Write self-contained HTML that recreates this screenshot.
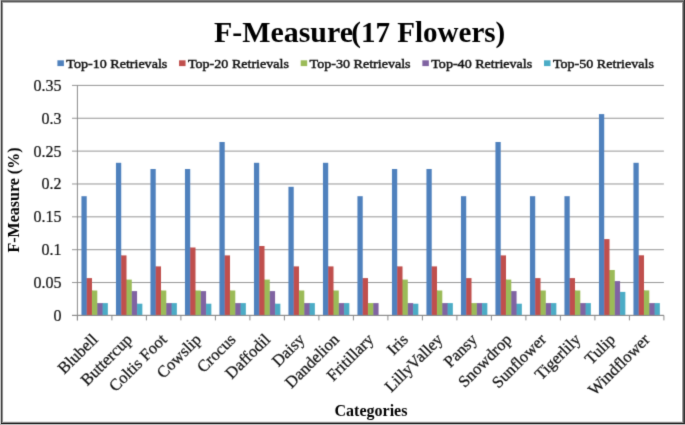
<!DOCTYPE html>
<html><head><meta charset="utf-8"><title>F-Measure(17 Flowers)</title><style>html,body{margin:0;padding:0;background:#fff;}body{width:685px;height:425px;overflow:hidden;position:relative;}svg{position:absolute;left:0;top:0;}text{font-family:"Liberation Serif",serif;}</style></head><body>
<svg id="chart" width="685" height="425" viewBox="0 0 685 425">
<defs><filter id="bl" x="0" y="0" width="685" height="425" filterUnits="userSpaceOnUse"><feConvolveMatrix order="3" kernelMatrix="0.0144 0.0912 0.0144 0.0912 0.5776 0.0912 0.0144 0.0912 0.0144" edgeMode="duplicate"/></filter></defs>
<rect x="0" y="0" width="685" height="425" fill="#fff"/>
<g filter="url(#bl)">
<line x1="72" y1="315.40" x2="663.90" y2="315.40" stroke="#959595" stroke-width="1"/>
<line x1="72" y1="282.54" x2="663.90" y2="282.54" stroke="#959595" stroke-width="1"/>
<line x1="72" y1="249.69" x2="663.90" y2="249.69" stroke="#959595" stroke-width="1"/>
<line x1="72" y1="216.83" x2="663.90" y2="216.83" stroke="#959595" stroke-width="1"/>
<line x1="72" y1="183.97" x2="663.90" y2="183.97" stroke="#959595" stroke-width="1"/>
<line x1="72" y1="151.11" x2="663.90" y2="151.11" stroke="#959595" stroke-width="1"/>
<line x1="72" y1="118.26" x2="663.90" y2="118.26" stroke="#959595" stroke-width="1"/>
<line x1="72" y1="85.40" x2="663.90" y2="85.40" stroke="#959595" stroke-width="1"/>
<line x1="77.40" y1="315.40" x2="77.40" y2="320.40" stroke="#8a8a8a" stroke-width="1"/>
<line x1="111.90" y1="315.40" x2="111.90" y2="320.40" stroke="#8a8a8a" stroke-width="1"/>
<line x1="146.40" y1="315.40" x2="146.40" y2="320.40" stroke="#8a8a8a" stroke-width="1"/>
<line x1="180.90" y1="315.40" x2="180.90" y2="320.40" stroke="#8a8a8a" stroke-width="1"/>
<line x1="215.40" y1="315.40" x2="215.40" y2="320.40" stroke="#8a8a8a" stroke-width="1"/>
<line x1="249.90" y1="315.40" x2="249.90" y2="320.40" stroke="#8a8a8a" stroke-width="1"/>
<line x1="284.40" y1="315.40" x2="284.40" y2="320.40" stroke="#8a8a8a" stroke-width="1"/>
<line x1="318.90" y1="315.40" x2="318.90" y2="320.40" stroke="#8a8a8a" stroke-width="1"/>
<line x1="353.40" y1="315.40" x2="353.40" y2="320.40" stroke="#8a8a8a" stroke-width="1"/>
<line x1="387.90" y1="315.40" x2="387.90" y2="320.40" stroke="#8a8a8a" stroke-width="1"/>
<line x1="422.40" y1="315.40" x2="422.40" y2="320.40" stroke="#8a8a8a" stroke-width="1"/>
<line x1="456.90" y1="315.40" x2="456.90" y2="320.40" stroke="#8a8a8a" stroke-width="1"/>
<line x1="491.40" y1="315.40" x2="491.40" y2="320.40" stroke="#8a8a8a" stroke-width="1"/>
<line x1="525.90" y1="315.40" x2="525.90" y2="320.40" stroke="#8a8a8a" stroke-width="1"/>
<line x1="560.40" y1="315.40" x2="560.40" y2="320.40" stroke="#8a8a8a" stroke-width="1"/>
<line x1="594.90" y1="315.40" x2="594.90" y2="320.40" stroke="#8a8a8a" stroke-width="1"/>
<line x1="629.40" y1="315.40" x2="629.40" y2="320.40" stroke="#8a8a8a" stroke-width="1"/>
<line x1="663.90" y1="315.40" x2="663.90" y2="320.40" stroke="#8a8a8a" stroke-width="1"/>
<rect x="86.23" y="278.10" width="1" height="37.30" fill="#4F81BD"/>
<rect x="91.51" y="290.50" width="1" height="24.90" fill="#C0504D"/>
<rect x="96.79" y="303.10" width="1" height="12.30" fill="#9BBB59"/>
<rect x="102.07" y="303.10" width="1" height="12.30" fill="#8064A2"/>
<rect x="81.44" y="196.20" width="5.28" height="119.20" fill="#4F81BD"/>
<rect x="86.73" y="278.10" width="5.28" height="37.30" fill="#C0504D"/>
<rect x="92.01" y="290.50" width="5.28" height="24.90" fill="#9BBB59"/>
<rect x="97.29" y="303.10" width="5.28" height="12.30" fill="#8064A2"/>
<rect x="102.57" y="303.10" width="5.28" height="12.30" fill="#4BACC6"/>
<rect x="120.73" y="255.40" width="1" height="60.00" fill="#4F81BD"/>
<rect x="126.01" y="279.60" width="1" height="35.80" fill="#C0504D"/>
<rect x="131.29" y="291.10" width="1" height="24.30" fill="#9BBB59"/>
<rect x="136.57" y="303.70" width="1" height="11.70" fill="#8064A2"/>
<rect x="115.94" y="162.80" width="5.28" height="152.60" fill="#4F81BD"/>
<rect x="121.23" y="255.40" width="5.28" height="60.00" fill="#C0504D"/>
<rect x="126.51" y="279.60" width="5.28" height="35.80" fill="#9BBB59"/>
<rect x="131.79" y="291.10" width="5.28" height="24.30" fill="#8064A2"/>
<rect x="137.07" y="303.70" width="5.28" height="11.70" fill="#4BACC6"/>
<rect x="155.23" y="266.40" width="1" height="49.00" fill="#4F81BD"/>
<rect x="160.51" y="290.50" width="1" height="24.90" fill="#C0504D"/>
<rect x="165.79" y="303.10" width="1" height="12.30" fill="#9BBB59"/>
<rect x="171.07" y="303.10" width="1" height="12.30" fill="#8064A2"/>
<rect x="150.44" y="169.00" width="5.28" height="146.40" fill="#4F81BD"/>
<rect x="155.73" y="266.40" width="5.28" height="49.00" fill="#C0504D"/>
<rect x="161.01" y="290.50" width="5.28" height="24.90" fill="#9BBB59"/>
<rect x="166.29" y="303.10" width="5.28" height="12.30" fill="#8064A2"/>
<rect x="171.57" y="303.10" width="5.28" height="12.30" fill="#4BACC6"/>
<rect x="189.73" y="247.50" width="1" height="67.90" fill="#4F81BD"/>
<rect x="195.01" y="290.50" width="1" height="24.90" fill="#C0504D"/>
<rect x="200.29" y="291.10" width="1" height="24.30" fill="#9BBB59"/>
<rect x="205.57" y="303.70" width="1" height="11.70" fill="#8064A2"/>
<rect x="184.94" y="169.00" width="5.28" height="146.40" fill="#4F81BD"/>
<rect x="190.23" y="247.50" width="5.28" height="67.90" fill="#C0504D"/>
<rect x="195.51" y="290.50" width="5.28" height="24.90" fill="#9BBB59"/>
<rect x="200.79" y="291.10" width="5.28" height="24.30" fill="#8064A2"/>
<rect x="206.07" y="303.70" width="5.28" height="11.70" fill="#4BACC6"/>
<rect x="224.23" y="255.40" width="1" height="60.00" fill="#4F81BD"/>
<rect x="229.51" y="290.50" width="1" height="24.90" fill="#C0504D"/>
<rect x="234.79" y="303.10" width="1" height="12.30" fill="#9BBB59"/>
<rect x="240.07" y="303.10" width="1" height="12.30" fill="#8064A2"/>
<rect x="219.44" y="142.00" width="5.28" height="173.40" fill="#4F81BD"/>
<rect x="224.73" y="255.40" width="5.28" height="60.00" fill="#C0504D"/>
<rect x="230.01" y="290.50" width="5.28" height="24.90" fill="#9BBB59"/>
<rect x="235.29" y="303.10" width="5.28" height="12.30" fill="#8064A2"/>
<rect x="240.57" y="303.10" width="5.28" height="12.30" fill="#4BACC6"/>
<rect x="258.73" y="246.00" width="1" height="69.40" fill="#4F81BD"/>
<rect x="264.01" y="279.60" width="1" height="35.80" fill="#C0504D"/>
<rect x="269.29" y="291.10" width="1" height="24.30" fill="#9BBB59"/>
<rect x="274.57" y="303.70" width="1" height="11.70" fill="#8064A2"/>
<rect x="253.94" y="162.80" width="5.28" height="152.60" fill="#4F81BD"/>
<rect x="259.23" y="246.00" width="5.28" height="69.40" fill="#C0504D"/>
<rect x="264.51" y="279.60" width="5.28" height="35.80" fill="#9BBB59"/>
<rect x="269.79" y="291.10" width="5.28" height="24.30" fill="#8064A2"/>
<rect x="275.07" y="303.70" width="5.28" height="11.70" fill="#4BACC6"/>
<rect x="293.23" y="266.40" width="1" height="49.00" fill="#4F81BD"/>
<rect x="298.51" y="290.50" width="1" height="24.90" fill="#C0504D"/>
<rect x="303.79" y="303.10" width="1" height="12.30" fill="#9BBB59"/>
<rect x="309.07" y="303.10" width="1" height="12.30" fill="#8064A2"/>
<rect x="288.44" y="186.80" width="5.28" height="128.60" fill="#4F81BD"/>
<rect x="293.73" y="266.40" width="5.28" height="49.00" fill="#C0504D"/>
<rect x="299.01" y="290.50" width="5.28" height="24.90" fill="#9BBB59"/>
<rect x="304.29" y="303.10" width="5.28" height="12.30" fill="#8064A2"/>
<rect x="309.57" y="303.10" width="5.28" height="12.30" fill="#4BACC6"/>
<rect x="327.73" y="266.40" width="1" height="49.00" fill="#4F81BD"/>
<rect x="333.01" y="290.50" width="1" height="24.90" fill="#C0504D"/>
<rect x="338.29" y="303.10" width="1" height="12.30" fill="#9BBB59"/>
<rect x="343.57" y="303.10" width="1" height="12.30" fill="#8064A2"/>
<rect x="322.94" y="162.80" width="5.28" height="152.60" fill="#4F81BD"/>
<rect x="328.23" y="266.40" width="5.28" height="49.00" fill="#C0504D"/>
<rect x="333.51" y="290.50" width="5.28" height="24.90" fill="#9BBB59"/>
<rect x="338.79" y="303.10" width="5.28" height="12.30" fill="#8064A2"/>
<rect x="344.07" y="303.10" width="5.28" height="12.30" fill="#4BACC6"/>
<rect x="362.23" y="278.10" width="1" height="37.30" fill="#4F81BD"/>
<rect x="367.51" y="303.10" width="1" height="12.30" fill="#C0504D"/>
<rect x="372.79" y="303.10" width="1" height="12.30" fill="#9BBB59"/>
<rect x="357.44" y="196.20" width="5.28" height="119.20" fill="#4F81BD"/>
<rect x="362.73" y="278.10" width="5.28" height="37.30" fill="#C0504D"/>
<rect x="368.01" y="303.10" width="5.28" height="12.30" fill="#9BBB59"/>
<rect x="373.29" y="303.10" width="5.28" height="12.30" fill="#8064A2"/>
<rect x="396.73" y="266.40" width="1" height="49.00" fill="#4F81BD"/>
<rect x="402.01" y="279.60" width="1" height="35.80" fill="#C0504D"/>
<rect x="407.29" y="303.10" width="1" height="12.30" fill="#9BBB59"/>
<rect x="412.57" y="303.70" width="1" height="11.70" fill="#8064A2"/>
<rect x="391.94" y="169.00" width="5.28" height="146.40" fill="#4F81BD"/>
<rect x="397.23" y="266.40" width="5.28" height="49.00" fill="#C0504D"/>
<rect x="402.51" y="279.60" width="5.28" height="35.80" fill="#9BBB59"/>
<rect x="407.79" y="303.10" width="5.28" height="12.30" fill="#8064A2"/>
<rect x="413.07" y="303.70" width="5.28" height="11.70" fill="#4BACC6"/>
<rect x="431.23" y="266.40" width="1" height="49.00" fill="#4F81BD"/>
<rect x="436.51" y="290.50" width="1" height="24.90" fill="#C0504D"/>
<rect x="441.79" y="303.10" width="1" height="12.30" fill="#9BBB59"/>
<rect x="447.07" y="303.10" width="1" height="12.30" fill="#8064A2"/>
<rect x="426.44" y="169.00" width="5.28" height="146.40" fill="#4F81BD"/>
<rect x="431.73" y="266.40" width="5.28" height="49.00" fill="#C0504D"/>
<rect x="437.01" y="290.50" width="5.28" height="24.90" fill="#9BBB59"/>
<rect x="442.29" y="303.10" width="5.28" height="12.30" fill="#8064A2"/>
<rect x="447.57" y="303.10" width="5.28" height="12.30" fill="#4BACC6"/>
<rect x="465.73" y="278.10" width="1" height="37.30" fill="#4F81BD"/>
<rect x="471.01" y="303.10" width="1" height="12.30" fill="#C0504D"/>
<rect x="476.29" y="303.10" width="1" height="12.30" fill="#9BBB59"/>
<rect x="481.57" y="303.10" width="1" height="12.30" fill="#8064A2"/>
<rect x="460.94" y="196.20" width="5.28" height="119.20" fill="#4F81BD"/>
<rect x="466.23" y="278.10" width="5.28" height="37.30" fill="#C0504D"/>
<rect x="471.51" y="303.10" width="5.28" height="12.30" fill="#9BBB59"/>
<rect x="476.79" y="303.10" width="5.28" height="12.30" fill="#8064A2"/>
<rect x="482.07" y="303.10" width="5.28" height="12.30" fill="#4BACC6"/>
<rect x="500.23" y="255.40" width="1" height="60.00" fill="#4F81BD"/>
<rect x="505.51" y="279.60" width="1" height="35.80" fill="#C0504D"/>
<rect x="510.79" y="291.10" width="1" height="24.30" fill="#9BBB59"/>
<rect x="516.07" y="303.70" width="1" height="11.70" fill="#8064A2"/>
<rect x="495.44" y="142.00" width="5.28" height="173.40" fill="#4F81BD"/>
<rect x="500.73" y="255.40" width="5.28" height="60.00" fill="#C0504D"/>
<rect x="506.01" y="279.60" width="5.28" height="35.80" fill="#9BBB59"/>
<rect x="511.29" y="291.10" width="5.28" height="24.30" fill="#8064A2"/>
<rect x="516.57" y="303.70" width="5.28" height="11.70" fill="#4BACC6"/>
<rect x="534.73" y="278.10" width="1" height="37.30" fill="#4F81BD"/>
<rect x="540.01" y="290.50" width="1" height="24.90" fill="#C0504D"/>
<rect x="545.29" y="303.10" width="1" height="12.30" fill="#9BBB59"/>
<rect x="550.57" y="303.10" width="1" height="12.30" fill="#8064A2"/>
<rect x="529.94" y="196.20" width="5.28" height="119.20" fill="#4F81BD"/>
<rect x="535.23" y="278.10" width="5.28" height="37.30" fill="#C0504D"/>
<rect x="540.51" y="290.50" width="5.28" height="24.90" fill="#9BBB59"/>
<rect x="545.79" y="303.10" width="5.28" height="12.30" fill="#8064A2"/>
<rect x="551.07" y="303.10" width="5.28" height="12.30" fill="#4BACC6"/>
<rect x="569.23" y="278.10" width="1" height="37.30" fill="#4F81BD"/>
<rect x="574.51" y="290.50" width="1" height="24.90" fill="#C0504D"/>
<rect x="579.79" y="303.10" width="1" height="12.30" fill="#9BBB59"/>
<rect x="585.07" y="303.10" width="1" height="12.30" fill="#8064A2"/>
<rect x="564.44" y="196.20" width="5.28" height="119.20" fill="#4F81BD"/>
<rect x="569.73" y="278.10" width="5.28" height="37.30" fill="#C0504D"/>
<rect x="575.01" y="290.50" width="5.28" height="24.90" fill="#9BBB59"/>
<rect x="580.29" y="303.10" width="5.28" height="12.30" fill="#8064A2"/>
<rect x="585.57" y="303.10" width="5.28" height="12.30" fill="#4BACC6"/>
<rect x="603.73" y="239.10" width="1" height="76.30" fill="#4F81BD"/>
<rect x="609.01" y="270.00" width="1" height="45.40" fill="#C0504D"/>
<rect x="614.29" y="281.10" width="1" height="34.30" fill="#9BBB59"/>
<rect x="619.57" y="291.90" width="1" height="23.50" fill="#8064A2"/>
<rect x="598.94" y="114.10" width="5.28" height="201.30" fill="#4F81BD"/>
<rect x="604.23" y="239.10" width="5.28" height="76.30" fill="#C0504D"/>
<rect x="609.51" y="270.00" width="5.28" height="45.40" fill="#9BBB59"/>
<rect x="614.79" y="281.10" width="5.28" height="34.30" fill="#8064A2"/>
<rect x="620.07" y="291.90" width="5.28" height="23.50" fill="#4BACC6"/>
<rect x="638.23" y="255.30" width="1" height="60.10" fill="#4F81BD"/>
<rect x="643.51" y="290.40" width="1" height="25.00" fill="#C0504D"/>
<rect x="648.79" y="303.10" width="1" height="12.30" fill="#9BBB59"/>
<rect x="654.07" y="303.10" width="1" height="12.30" fill="#8064A2"/>
<rect x="633.44" y="162.80" width="5.28" height="152.60" fill="#4F81BD"/>
<rect x="638.73" y="255.30" width="5.28" height="60.10" fill="#C0504D"/>
<rect x="644.01" y="290.40" width="5.28" height="25.00" fill="#9BBB59"/>
<rect x="649.29" y="303.10" width="5.28" height="12.30" fill="#8064A2"/>
<rect x="654.57" y="303.10" width="5.28" height="12.30" fill="#4BACC6"/>
<line x1="77.40" y1="85.40" x2="77.40" y2="320.40" stroke="#8a8a8a" stroke-width="1"/>
<line x1="72" y1="315.40" x2="663.90" y2="315.40" stroke="#8a8a8a" stroke-width="1"/>
<text x="61.5" y="320.90" font-size="16" text-anchor="end" fill="#111" stroke="#111" stroke-width="0.2">0</text>
<text x="61.5" y="288.04" font-size="16" text-anchor="end" fill="#111" stroke="#111" stroke-width="0.2">0.05</text>
<text x="61.5" y="255.19" font-size="16" text-anchor="end" fill="#111" stroke="#111" stroke-width="0.2">0.1</text>
<text x="61.5" y="222.33" font-size="16" text-anchor="end" fill="#111" stroke="#111" stroke-width="0.2">0.15</text>
<text x="61.5" y="189.47" font-size="16" text-anchor="end" fill="#111" stroke="#111" stroke-width="0.2">0.2</text>
<text x="61.5" y="156.61" font-size="16" text-anchor="end" fill="#111" stroke="#111" stroke-width="0.2">0.25</text>
<text x="61.5" y="123.76" font-size="16" text-anchor="end" fill="#111" stroke="#111" stroke-width="0.2">0.3</text>
<text x="61.5" y="90.90" font-size="16" text-anchor="end" fill="#111" stroke="#111" stroke-width="0.2">0.35</text>
<text x="214" y="42.1" font-size="30" font-weight="bold" textLength="139" lengthAdjust="spacingAndGlyphs" fill="#000">F-Measure</text>
<text x="351.3" y="42.1" font-size="30" font-weight="bold" textLength="154" lengthAdjust="spacingAndGlyphs" fill="#000">(17 Flowers)</text>
<rect x="57.40" y="60.3" width="6.5" height="5.8" fill="#4F81BD"/>
<text x="66.30" y="67.6" font-size="13" textLength="101" lengthAdjust="spacingAndGlyphs" fill="#111" stroke="#111" stroke-width="0.45">Top-10 Retrievals</text>
<rect x="179.05" y="60.3" width="6.5" height="5.8" fill="#C0504D"/>
<text x="187.95" y="67.6" font-size="13" textLength="101" lengthAdjust="spacingAndGlyphs" fill="#111" stroke="#111" stroke-width="0.45">Top-20 Retrievals</text>
<rect x="300.70" y="60.3" width="6.5" height="5.8" fill="#9BBB59"/>
<text x="309.60" y="67.6" font-size="13" textLength="101" lengthAdjust="spacingAndGlyphs" fill="#111" stroke="#111" stroke-width="0.45">Top-30 Retrievals</text>
<rect x="422.35" y="60.3" width="6.5" height="5.8" fill="#8064A2"/>
<text x="431.25" y="67.6" font-size="13" textLength="101" lengthAdjust="spacingAndGlyphs" fill="#111" stroke="#111" stroke-width="0.45">Top-40 Retrievals</text>
<rect x="544.00" y="60.3" width="6.5" height="5.8" fill="#4BACC6"/>
<text x="552.90" y="67.6" font-size="13" textLength="101" lengthAdjust="spacingAndGlyphs" fill="#111" stroke="#111" stroke-width="0.45">Top-50 Retrievals</text>
<text transform="translate(98.65,340.40) rotate(-45)" font-size="16.5" text-anchor="end" fill="#111" stroke="#111" stroke-width="0.25">Blubell</text>
<text transform="translate(133.15,340.40) rotate(-45)" font-size="16.5" text-anchor="end" fill="#111" stroke="#111" stroke-width="0.25">Buttercup</text>
<text transform="translate(167.65,340.40) rotate(-45)" font-size="16.5" text-anchor="end" fill="#111" stroke="#111" stroke-width="0.25">Coltis Foot</text>
<text transform="translate(202.15,340.40) rotate(-45)" font-size="16.5" text-anchor="end" fill="#111" stroke="#111" stroke-width="0.25">Cowslip</text>
<text transform="translate(236.65,340.40) rotate(-45)" font-size="16.5" text-anchor="end" fill="#111" stroke="#111" stroke-width="0.25">Crocus</text>
<text transform="translate(271.15,340.40) rotate(-45)" font-size="16.5" text-anchor="end" fill="#111" stroke="#111" stroke-width="0.25">Daffodil</text>
<text transform="translate(305.65,340.40) rotate(-45)" font-size="16.5" text-anchor="end" fill="#111" stroke="#111" stroke-width="0.25">Daisy</text>
<text transform="translate(340.15,340.40) rotate(-45)" font-size="16.5" text-anchor="end" fill="#111" stroke="#111" stroke-width="0.25">Dandelion</text>
<text transform="translate(374.65,340.40) rotate(-45)" font-size="16.5" text-anchor="end" fill="#111" stroke="#111" stroke-width="0.25">Fritillary</text>
<text transform="translate(409.15,340.40) rotate(-45)" font-size="16.5" text-anchor="end" fill="#111" stroke="#111" stroke-width="0.25">Iris</text>
<text transform="translate(443.65,340.40) rotate(-45)" font-size="16.5" text-anchor="end" fill="#111" stroke="#111" stroke-width="0.25">LillyValley</text>
<text transform="translate(478.15,340.40) rotate(-45)" font-size="16.5" text-anchor="end" fill="#111" stroke="#111" stroke-width="0.25">Pansy</text>
<text transform="translate(512.65,340.40) rotate(-45)" font-size="16.5" text-anchor="end" fill="#111" stroke="#111" stroke-width="0.25">Snowdrop</text>
<text transform="translate(547.15,340.40) rotate(-45)" font-size="16.5" text-anchor="end" fill="#111" stroke="#111" stroke-width="0.25">Sunflower</text>
<text transform="translate(581.65,340.40) rotate(-45)" font-size="16.5" text-anchor="end" fill="#111" stroke="#111" stroke-width="0.25">Tigerlily</text>
<text transform="translate(616.15,340.40) rotate(-45)" font-size="16.5" text-anchor="end" fill="#111" stroke="#111" stroke-width="0.25">Tulip</text>
<text transform="translate(650.65,340.40) rotate(-45)" font-size="16.5" text-anchor="end" fill="#111" stroke="#111" stroke-width="0.25">Windflower</text>
<text x="371" y="415.8" font-size="16" font-weight="bold" text-anchor="middle" fill="#000">Categories</text>
<text transform="translate(19.4,200) rotate(-90)" font-size="16" font-weight="bold" text-anchor="middle" fill="#000">F-Measure (%)</text>
</g></svg>
<svg width="685" height="425" viewBox="0 0 685 425" shape-rendering="crispEdges">
<rect x="0" y="0" width="685" height="1" fill="#7b7b7b"/>
<rect x="0" y="1" width="685" height="1" fill="#636363"/>
<rect x="0" y="2" width="685" height="1" fill="#b0b0b0"/>
<rect x="3" y="3" width="679" height="1" fill="#fafafa"/>
<rect x="0" y="0" width="1" height="425" fill="#c0c0c0"/>
<rect x="1" y="1" width="1" height="423" fill="#505050"/>
<rect x="2" y="2" width="1" height="421" fill="#909090"/>
<rect x="3" y="3" width="1" height="418" fill="#f0f0f0"/>
<rect x="682" y="2" width="1" height="421" fill="#a0a0a0"/>
<rect x="683" y="1" width="1" height="423" fill="#5a5a5a"/>
<rect x="684" y="0" width="1" height="425" fill="#383838"/>
<rect x="3" y="421" width="679" height="1" fill="#e0e0e0"/>
<rect x="2" y="422" width="681" height="1" fill="#888888"/>
<rect x="1" y="423" width="683" height="1" fill="#2e2e2e"/>
<rect x="0" y="424" width="685" height="1" fill="#b8b8b8"/>
</svg></body></html>
